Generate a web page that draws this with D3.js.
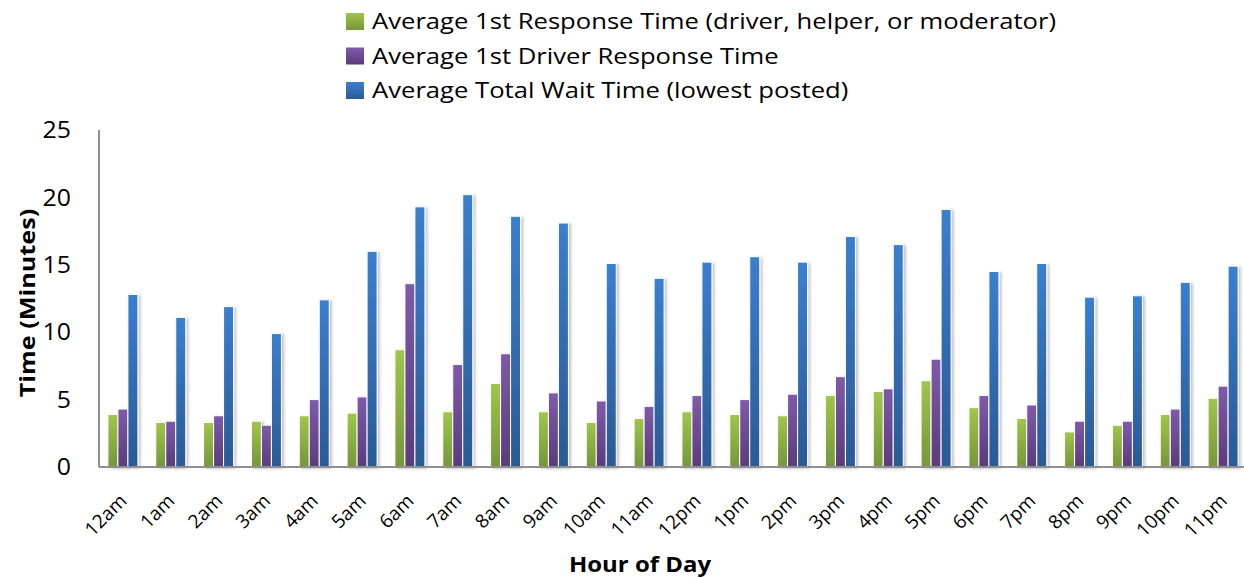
<!DOCTYPE html>
<html>
<head>
<meta charset="utf-8">
<script src="https://cdn.jsdelivr.net/npm/d3@7"></script>
<style>
  body { margin: 0; background: #fff; }
  svg text { font-family: "Open Sans", Lato, sans-serif; fill: #000; }
</style>
</head>
<body>
<div id="chart"></div>
<script>
const hours = ["12am","1am","2am","3am","4am","5am","6am","7am","8am","9am","10am","11am",
               "12pm","1pm","2pm","3pm","4pm","5pm","6pm","7pm","8pm","9pm","10pm","11pm"];
const firstResponse = [3.9,3.3,3.3,3.4,3.8,4.0,8.7,4.1,6.2,4.1,3.3,3.6,
                       4.1,3.9,3.8,5.3,5.6,6.4,4.4,3.6,2.6,3.1,3.9,5.1];
const driverResponse = [4.3,3.4,3.8,3.1,5.0,5.2,13.6,7.6,8.4,5.5,4.9,4.5,
                        5.3,5.0,5.4,6.7,5.8,8.0,5.3,4.6,3.4,3.4,4.3,6.0];
const totalWait = [12.8,11.1,11.9,9.9,12.4,16.0,19.3,20.2,18.6,18.1,15.1,14.0,
                   15.2,15.6,15.2,17.1,16.5,19.1,14.5,15.1,12.6,12.7,13.7,14.9];
const seriesNames = ["Average 1st Response Time (driver, helper, or moderator)",
                     "Average 1st Driver Response Time",
                     "Average Total Wait Time (lowest posted)"];
const yTicks = [0, 5, 10, 15, 20, 25];

const series = [
    { name: seriesNames[0], values: firstResponse, top: "#a0c64a", bottom: "#76963a" },
    { name: seriesNames[1], values: driverResponse, top: "#7f5aa9", bottom: "#5b3b7c" },
    { name: seriesNames[2], values: totalWait, top: "#3a7fd0", bottom: "#2a5a94" }
];

const width = 1244, height = 578;
const margin = { top: 130, right: -3, bottom: 111, left: 99 };
const plotW = width - margin.left - margin.right,
      plotH = height - margin.top - margin.bottom;

// the source font (Calibri) renders wider than what we have, stretch text to fit
const stretch = function (sel, factor) {
    sel.each(function () {
        const w = this.getComputedTextLength();
        d3.select(this)
            .attr("textLength", w * factor)
            .attr("lengthAdjust", "spacingAndGlyphs");
    });
};

const svg = d3.select("#chart").append("svg")
    .attr("width", width)
    .attr("height", height);

const defs = svg.append("defs");
series.forEach(function (s, i) {
    const g = defs.append("linearGradient")
        .attr("id", "grad" + i)
        .attr("x1", 0).attr("y1", 0).attr("x2", 0).attr("y2", 1);
    g.append("stop").attr("offset", "0%").attr("stop-color", s.top);
    g.append("stop").attr("offset", "100%").attr("stop-color", s.bottom);
});
const shadow = defs.append("filter").attr("id", "shadow")
    .attr("x", "-50%").attr("y", "-10%").attr("width", "250%").attr("height", "120%");
shadow.append("feDropShadow")
    .attr("dx", 2).attr("dy", 1).attr("stdDeviation", 1.8)
    .attr("flood-color", "#000").attr("flood-opacity", 0.25);

const x0 = d3.scaleBand()
    .domain(hours)
    .range([0, plotW])
    .paddingInner(0.373)
    .paddingOuter(0.1865);

const x1 = d3.scaleBand()
    .domain(d3.range(series.length))
    .range([0, x0.bandwidth()]);

const y = d3.scaleLinear()
    .domain([0, 25])
    .range([plotH, 0]);

const plot = svg.append("g")
    .attr("transform", "translate(" + margin.left + "," + margin.top + ")");

// gridlines
plot.selectAll(".grid")
    .data(yTicks)
    .enter()
    .append("line")
    .attr("class", "grid")
    .attr("x1", 0).attr("x2", plotW)
    .attr("y1", function (d) { return y(d); })
    .attr("y2", function (d) { return y(d); })
    .attr("stroke", "#8f8f8f")
    .attr("stroke-width", 2)
    .attr("filter", "url(#shadow)");

// left axis line
plot.append("line")
    .attr("x1", 0).attr("x2", 0)
    .attr("y1", y(25)).attr("y2", y(0))
    .attr("stroke", "#8f8f8f")
    .attr("stroke-width", 2);

// bars
const groups = plot.selectAll(".hour")
    .data(hours)
    .enter()
    .append("g")
    .attr("class", "hour")
    .attr("transform", function (d) { return "translate(" + x0(d) + ",0)"; });

groups.selectAll("rect")
    .data(function (d, i) {
        return series.map(function (s, k) { return { k: k, value: s.values[i] }; });
    })
    .enter()
    .append("rect")
    .attr("x", function (d) { return x1(d.k); })
    .attr("y", function (d) { return y(d.value); })
    .attr("width", x1.bandwidth())
    .attr("height", function (d) { return y(0) - y(d.value); })
    .attr("fill", function (d) { return "url(#grad" + d.k + ")"; })
    .attr("stroke", "#fff")
    .attr("stroke-width", 1)
    .attr("filter", "url(#shadow)");

// bottom axis line
plot.append("line")
    .attr("x1", 0).attr("x2", plotW)
    .attr("y1", y(0)).attr("y2", y(0))
    .attr("stroke", "#8f8f8f")
    .attr("stroke-width", 2);

// y tick labels
plot.selectAll(".ylab")
    .data(yTicks)
    .enter()
    .append("text")
    .attr("class", "ylab")
    .attr("x", -28)
    .attr("y", function (d) { return y(d); })
    .attr("dy", "0.36em")
    .attr("text-anchor", "end")
    .attr("font-size", 23)
    .text(function (d) { return d; })
    .call(stretch, 1.08);

// x tick labels
plot.selectAll(".xlab")
    .data(hours)
    .enter()
    .append("text")
    .attr("class", "xlab")
    .attr("text-anchor", "end")
    .attr("font-size", 19)
    .attr("transform", function (d) {
        return "translate(" + (x0(d) + x0.bandwidth() / 2 + 5) + "," + (plotH + 35) + ") rotate(-45)";
    })
    .text(function (d) { return d; });

// axis titles
svg.append("text")
    .attr("x", 640).attr("y", 572)
    .attr("text-anchor", "middle")
    .attr("font-size", 21)
    .attr("font-weight", "bold")
    .text("Hour of Day")
    .call(stretch, 1.14);

svg.append("text")
    .attr("transform", "translate(35,303) rotate(-90)")
    .attr("text-anchor", "middle")
    .attr("font-size", 21)
    .attr("font-weight", "bold")
    .text("Time (Minutes)")
    .call(stretch, 1.2);

// legend
const legend = svg.selectAll(".legend")
    .data(series)
    .enter()
    .append("g")
    .attr("class", "legend")
    .attr("transform", function (d, i) { return "translate(346," + (21.5 + i * 34.5) + ")"; });

legend.append("rect")
    .attr("x", 0).attr("y", -8.5)
    .attr("width", 18).attr("height", 17)
    .attr("fill", function (d, i) { return "url(#grad" + i + ")"; });

legend.append("text")
    .attr("x", 26)
    .attr("y", 7.5)
    .attr("font-size", 21)
    .text(function (d) { return d.name; })
    .call(stretch, 1.22);
</script>
</body>
</html>
